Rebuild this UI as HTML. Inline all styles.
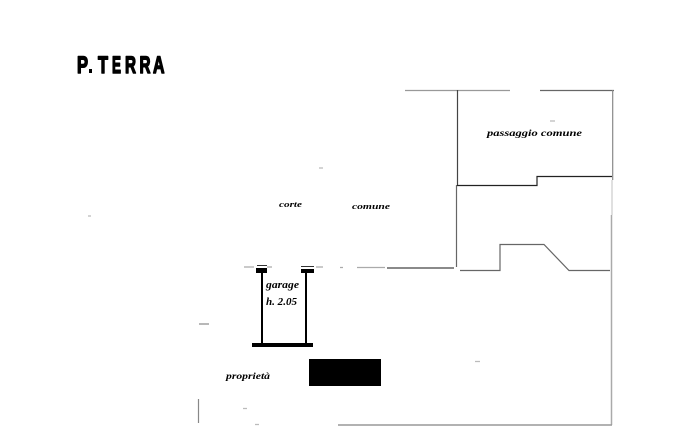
<!DOCTYPE html>
<html>
<head>
<meta charset="utf-8">
<style>
html,body{margin:0;padding:0;background:#fff;width:685px;height:438px;overflow:hidden}
svg{display:block}
text{fill:#000}
.h{font-family:"Liberation Sans",sans-serif;font-weight:bold;font-size:24px;stroke:#000;stroke-width:1.6;stroke-linejoin:round}
.t{font-family:"Liberation Serif",serif;font-style:italic;font-weight:bold}
</style>
</head>
<body>
<svg width="685" height="438" viewBox="0 0 685 438" xmlns="http://www.w3.org/2000/svg">
<rect width="685" height="438" fill="#fff"/>
<text class="h" x="77" y="73" textLength="11" lengthAdjust="spacingAndGlyphs">P</text>
<rect x="89" y="69" width="3" height="4" fill="#000"/>
<text class="h" x="98" y="73" textLength="10" lengthAdjust="spacingAndGlyphs">T</text>
<text class="h" x="112" y="73" textLength="9" lengthAdjust="spacingAndGlyphs">E</text>
<text class="h" x="125" y="73" textLength="11" lengthAdjust="spacingAndGlyphs">R</text>
<text class="h" x="139.5" y="73" textLength="11" lengthAdjust="spacingAndGlyphs">R</text>
<text class="h" x="153" y="73" textLength="11.5" lengthAdjust="spacingAndGlyphs">A</text>

<g fill="none" stroke="#555" stroke-width="1.2">
<path d="M405 90.5H510" stroke="#999"/>
<path d="M540 90.5H614" stroke="#666"/>
<path d="M612.7 90V180" stroke="#888"/>
<path d="M612 180V215" stroke="#ccc"/>
<path d="M611.5 215V425" stroke="#aaa" stroke-width="1.5"/>
<path d="M457.5 90V185" stroke="#444"/>
<path d="M456.5 185V267" stroke="#666"/>
<path d="M457 185.5H537V176.5H612" stroke="#222"/>
<path d="M460 270.5H500V244.5H544L569 270.5H610" stroke="#666"/>
<path d="M387 268H454" stroke="#444"/>
<path d="M357 267.5H385M340 267.5H343M244 267H254M267 267H272M316 267H323" stroke="#aaa"/>
<path d="M198.5 399V423" stroke="#888"/>
<path d="M199 324H209" stroke="#888"/>
<path d="M338 425H612" stroke="#999" stroke-width="1.5"/>
<path d="M255 424.5H259M88 216H91M319 168H323M243 408.5H247M475 361.5H480M550 121H555" stroke="#bbb"/>
</g>

<g fill="#000">
<rect x="261" y="272" width="2" height="73"/>
<rect x="305" y="272" width="2" height="73"/>
<rect x="256" y="268" width="11" height="5"/>
<rect x="301" y="269" width="13" height="4"/>
<rect x="252" y="343" width="61" height="4"/>
<rect x="309" y="359" width="72" height="27"/>
</g>
<path d="M257 265.5H267M301 266.5H314" stroke="#333" stroke-width="1" fill="none"/>

<text class="t" x="487" y="136" font-size="9.5" textLength="95" lengthAdjust="spacingAndGlyphs">passaggio comune</text>
<text class="t" x="279" y="207" font-size="8.5" textLength="23" lengthAdjust="spacingAndGlyphs">corte</text>
<text class="t" x="352" y="209" font-size="8.5" textLength="38" lengthAdjust="spacingAndGlyphs">comune</text>
<text class="t" x="266" y="288" font-size="10" textLength="33" lengthAdjust="spacingAndGlyphs">garage</text>
<text class="t" x="266" y="305" font-size="10.5" textLength="31" lengthAdjust="spacingAndGlyphs">h. 2.05</text>
<text class="t" x="226" y="379" font-size="9.5" textLength="44" lengthAdjust="spacingAndGlyphs">proprietà</text>
</svg>
</body>
</html>
